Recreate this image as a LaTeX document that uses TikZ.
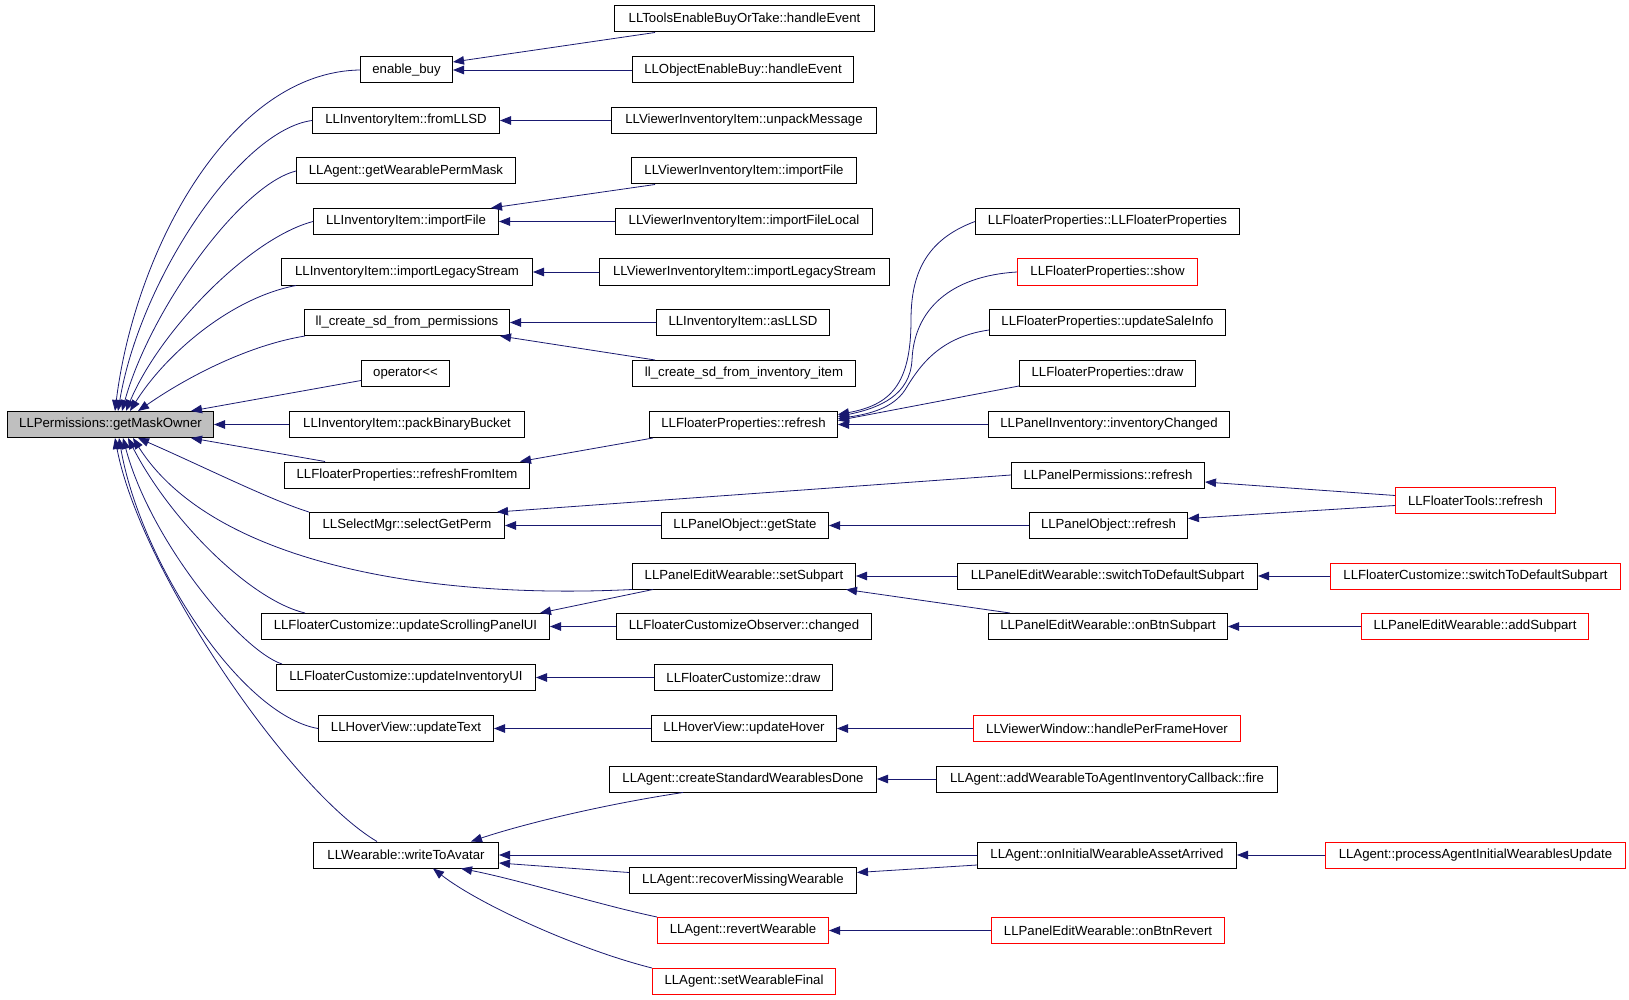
\documentclass[tikz,border=0pt]{standalone}
\usepackage{fontspec}
\setmainfont{Liberation Sans}
\usetikzlibrary{arrows.meta}
\definecolor{eblue}{HTML}{191970}
\definecolor{rootgray}{HTML}{BFBFBF}
\begin{document}
\begin{tikzpicture}[x=1pt,y=-1pt,
  fn/.style={draw=black, line width=1pt, minimum height=26pt, inner sep=0pt, anchor=west,
             font=\fontsize{13.2pt}{15pt}\selectfont},
  rfn/.style={fn, draw=red},
  edge/.style={draw=eblue, line width=0.8pt, -{Triangle[length=11pt,width=8.5pt]}}]
\useasboundingbox (0,0) rectangle (1629,1000);
% column 0/1
\node[fn, fill=rootgray, minimum width=206pt] (root) at (7,424.5) {LLPermissions::getMaskOwner};
\node[fn, minimum width=92pt] (eb) at (360,70) {enable\_buy};
\node[fn, minimum width=187pt] (fromllsd) at (312,120.5) {LLInventoryItem::fromLLSD};
\node[fn, minimum width=219pt] (gwpm) at (296,171) {LLAgent::getWearablePermMask};
\node[fn, minimum width=185pt] (iif) at (313,221.5) {LLInventoryItem::importFile};
\node[fn, minimum width=251pt] (ils) at (281,272) {LLInventoryItem::importLegacyStream};
\node[fn, minimum width=205pt] (llcp) at (304,322.5) {ll\_create\_sd\_from\_permissions};
\node[fn, minimum width=88pt] (op) at (361,373.5) {operator<\kern0pt<};
\node[fn, minimum width=235pt] (pbb) at (289,424.5) {LLInventoryItem::packBinaryBucket};
\node[fn, minimum width=245pt] (rfi) at (284,475) {LLFloaterProperties::refreshFromItem};
\node[fn, minimum width=195pt] (sgp) at (309,525.5) {LLSelectMgr::selectGetPerm};
\node[fn, minimum width=288pt] (uspui) at (261,626.5) {LLFloaterCustomize::updateScrollingPanelUI};
\node[fn, minimum width=259pt] (iui) at (276,677.5) {LLFloaterCustomize::updateInventoryUI};
\node[fn, minimum width=175pt] (ut) at (318,728.5) {LLHoverView::updateText};
\node[fn, minimum width=185pt] (wta) at (313,855) {LLWearable::writeToAvatar};
% column 2
\node[fn, minimum width=260pt] (tebt) at (614,19) {LLToolsEnableBuyOrTake::handleEvent};
\node[fn, minimum width=221pt] (oeb) at (632,70) {LLObjectEnableBuy::handleEvent};
\node[fn, minimum width=265pt] (vium) at (611,120.5) {LLViewerInventoryItem::unpackMessage};
\node[fn, minimum width=225pt] (viif) at (631,171) {LLViewerInventoryItem::importFile};
\node[fn, minimum width=257pt] (viifl) at (615,221.5) {LLViewerInventoryItem::importFileLocal};
\node[fn, minimum width=290pt] (vils) at (599,272) {LLViewerInventoryItem::importLegacyStream};
\node[fn, minimum width=173pt] (asllsd) at (656,322.5) {LLInventoryItem::asLLSD};
\node[fn, minimum width=223pt] (llci) at (632,373.5) {ll\_create\_sd\_from\_inventory\_item};
\node[fn, minimum width=188pt] (fpr) at (649,424.5) {LLFloaterProperties::refresh};
\node[fn, minimum width=167pt] (pogs) at (661,525.5) {LLPanelObject::getState};
\node[fn, minimum width=223pt] (ss) at (632,576) {LLPanelEditWearable::setSubpart};
\node[fn, minimum width=255pt] (fco) at (616,626.5) {LLFloaterCustomizeObserver::changed};
\node[fn, minimum width=178pt] (fcd) at (654,677.5) {LLFloaterCustomize::draw};
\node[fn, minimum width=185pt] (uh) at (651,728.5) {LLHoverView::updateHover};
\node[fn, minimum width=267pt] (cswd) at (609,779) {LLAgent::createStandardWearablesDone};
\node[fn, minimum width=227pt] (rmw) at (629,880.5) {LLAgent::recoverMissingWearable};
\node[rfn, minimum width=171pt] (rw) at (657,930.5) {LLAgent::revertWearable};
\node[rfn, minimum width=183pt] (swf) at (652,981.5) {LLAgent::setWearableFinal};
% column 3
\node[fn, minimum width=264pt] (fpfp) at (975,221.5) {LLFloaterProperties::LLFloaterProperties};
\node[rfn, minimum width=180pt] (fps) at (1017,272) {LLFloaterProperties::show};
\node[fn, minimum width=236pt] (fpusi) at (989,322.5) {LLFloaterProperties::updateSaleInfo};
\node[fn, minimum width=176pt] (fpd) at (1019,373.5) {LLFloaterProperties::draw};
\node[fn, minimum width=241pt] (pic) at (988,424.5) {LLPanelInventory::inventoryChanged};
\node[fn, minimum width=193pt] (ppr) at (1011,475) {LLPanelPermissions::refresh};
\node[fn, minimum width=158pt] (por) at (1029,525.5) {LLPanelObject::refresh};
\node[fn, minimum width=300pt] (pestds) at (957,576) {LLPanelEditWearable::switchToDefaultSubpart};
\node[fn, minimum width=239pt] (pebs) at (988,626.5) {LLPanelEditWearable::onBtnSubpart};
\node[rfn, minimum width=267pt] (hpfh) at (973,728.5) {LLViewerWindow::handlePerFrameHover};
\node[fn, minimum width=341pt] (fire) at (936,779) {LLAgent::addWearableToAgentInventoryCallback::fire};
\node[fn, minimum width=259pt] (oiwaa) at (977,855) {LLAgent::onInitialWearableAssetArrived};
\node[rfn, minimum width=233pt] (obr) at (991,930.5) {LLPanelEditWearable::onBtnRevert};
% column 4
\node[rfn, minimum width=160pt] (ftr) at (1395,500.5) {LLFloaterTools::refresh};
\node[rfn, minimum width=290pt] (fcstds) at (1330,576) {LLFloaterCustomize::switchToDefaultSubpart};
\node[rfn, minimum width=227pt] (peas) at (1361,626.5) {LLPanelEditWearable::addSubpart};
\node[rfn, minimum width=300pt] (paiwu) at (1325,855) {LLAgent::processAgentInitialWearablesUpdate};
% edges into root
\draw[edge] (eb.west) .. controls (230,72) and (135,250) .. ([xshift=108pt]root.north west);
\draw[edge] (fromllsd.west) .. controls (240,130) and (140,280) .. ([xshift=111pt]root.north west);
\draw[edge] (gwpm.west) .. controls (240,185) and (150,310) .. ([xshift=115pt]root.north west);
\draw[edge] (iif.west) .. controls (250,238) and (160,330) .. ([xshift=119pt]root.north west);
\draw[edge] ([xshift=15pt]ils.south west) .. controls (230,298) and (165,355) .. ([xshift=123pt]root.north west);
\draw[edge] ([xshift=1pt]llcp.south west) .. controls (250,345) and (190,375) .. ([xshift=131pt]root.north west);
\draw[edge] ([yshift=-7pt]op.west) -- ([xshift=-23pt]root.north east);
\draw[edge] (pbb.west) -- (root.east);
\draw[edge] ([xshift=41pt]rfi.north west) -- ([xshift=-23pt]root.south east);
\draw[edge] (sgp.north west) .. controls (270,500) and (200,465) .. ([xshift=131pt]root.south west);
\draw[edge] (ss.south west) .. controls (420,600) and (210,560) .. ([xshift=126pt]root.south west);
\draw[edge] ([xshift=44pt]uspui.north west) .. controls (250,600) and (170,520) .. ([xshift=121pt]root.south west);
\draw[edge] ([xshift=6pt]iui.north west) .. controls (240,650) and (150,540) .. ([xshift=116pt]root.south west);
\draw[edge] (ut.west) .. controls (240,715) and (140,560) .. ([xshift=112pt]root.south west);
\draw[edge] ([xshift=64pt]wta.north west) .. controls (290,790) and (140,570) .. ([xshift=108pt]root.south west);
% column 2 -> column 1
\draw[edge] ([xshift=41pt]tebt.south west) -- ([yshift=8pt]eb.east);
\draw[edge] (oeb.west) -- (eb.east);
\draw[edge] (vium.west) -- (fromllsd.east);
\draw[edge] ([xshift=24pt]viif.south west) -- ([xshift=-8pt]iif.north east);
\draw[edge] (viifl.west) -- (iif.east);
\draw[edge] (vils.west) -- (ils.east);
\draw[edge] (asllsd.west) -- (llcp.east);
\draw[edge] ([xshift=23pt]llci.north west) -- ([xshift=-10pt]llcp.south east);
\draw[edge] ([xshift=4pt]fpr.south west) -- ([xshift=-10pt]rfi.north east);
\draw[edge] (ppr.west) -- ([xshift=-8pt]sgp.north east);
\draw[edge] (pogs.west) -- (sgp.east);
\draw[edge] ([xshift=21pt]ss.south west) -- ([xshift=-10pt]uspui.north east);
\draw[edge] (fco.west) -- (uspui.east);
\draw[edge] (fcd.west) -- (iui.east);
\draw[edge] (uh.west) -- (ut.east);
\draw[edge] ([xshift=74pt]cswd.south west) .. controls (600,805) and (520,825) .. ([xshift=-28pt]wta.north east);
\draw[edge] (oiwaa.west) -- (wta.east);
\draw[edge] ([yshift=8pt]rmw.west) -- ([yshift=-8pt]wta.east);
\draw[edge] (rw.north west) .. controls (600,905) and (520,880) .. ([xshift=-38pt]wta.south east);
\draw[edge] (swf.north west) .. controls (580,950) and (480,905) .. ([xshift=-66pt]wta.south east);
% column 3 -> column 2
\draw[edge] (fpfp.west) .. controls (925,240) and (911,275) .. (911,320) .. controls (911,385) and (890,405) .. ([yshift=10pt]fpr.east);
\draw[edge] (fps.west) .. controls (950,276) and (914,310) .. (912,360) .. controls (910,395) and (880,408) .. ([yshift=8pt]fpr.east);
\draw[edge] ([yshift=-7.5pt]fpusi.west) .. controls (940,337) and (920,365) .. (905,390) .. controls (893,408) and (870,414) .. ([yshift=6pt]fpr.east);
\draw[edge] ([yshift=-12.5pt]fpd.west) -- ([yshift=4pt]fpr.east);
\draw[edge] (pic.west) -- (fpr.east);
\draw[edge] ([yshift=5pt]ftr.west) -- ([yshift=-7pt]ppr.east);
\draw[edge] ([yshift=-5pt]ftr.west) -- ([yshift=7pt]por.east);
\draw[edge] (por.west) -- (pogs.east);
\draw[edge] (pestds.west) -- (ss.east);
\draw[edge] ([xshift=22pt]pebs.north west) -- ([xshift=-10pt]ss.south east);
\draw[edge] (hpfh.west) -- (uh.east);
\draw[edge] (fire.west) -- (cswd.east);
\draw[edge] ([yshift=-10pt]oiwaa.west) -- ([yshift=8pt]rmw.east);
\draw[edge] (obr.west) -- (rw.east);
% column 4 -> column 3
\draw[edge] (fcstds.west) -- (pestds.east);
\draw[edge] (peas.west) -- (pebs.east);
\draw[edge] (paiwu.west) -- (oiwaa.east);
\end{tikzpicture}
\end{document}
